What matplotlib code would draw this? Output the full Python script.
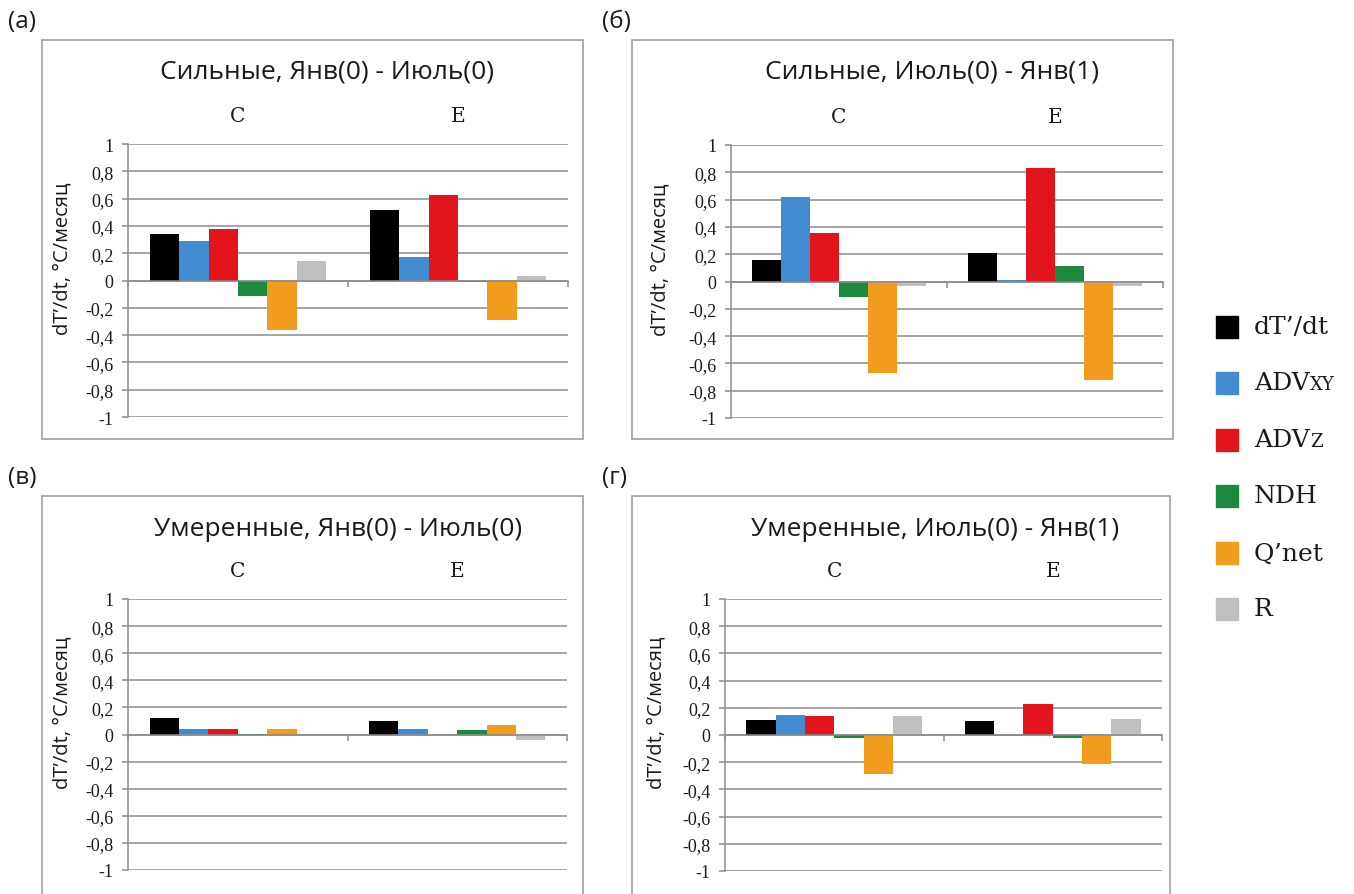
import matplotlib.pyplot as plt
import numpy as np
from matplotlib.patches import Rectangle
from matplotlib.offsetbox import TextArea, HPacker, AnchoredOffsetbox

# Heat budget terms, °C/month, for the two regions C and E
categories = ['C', 'E']
terms = ['dT’/dt', 'ADV', 'ADV', 'NDH', 'Q’net', 'R']
term_subs = ['', 'XY', 'Z', '', '', '']
colors = ['#000000', '#438bd0', '#e2141c', '#1b8a3e', '#f29c1e', '#bfbfbf']

strong_jan_jul_C = [0.34, 0.29, 0.38, -0.115, -0.36, 0.14]
strong_jan_jul_E = [0.52, 0.17, 0.63, -0.01, -0.29, 0.03]
strong_jul_jan_C = [0.16, 0.62, 0.355, -0.11, -0.67, -0.035]
strong_jul_jan_E = [0.21, 0.012, 0.83, 0.115, -0.72, -0.035]
moderate_jan_jul_C = [0.125, 0.04, 0.042, 0.007, 0.04, -0.004]
moderate_jan_jul_E = [0.10, 0.037, 0.0, 0.032, 0.068, -0.044]
moderate_jul_jan_C = [0.112, 0.146, 0.139, -0.02, -0.29, 0.139]
moderate_jul_jan_E = [0.10, -0.007, 0.227, -0.02, -0.212, 0.117]

titles = ['Сильные, Янв(0) - Июль(0)', 'Сильные, Июль(0) - Янв(1)',
          'Умеренные, Янв(0) - Июль(0)', 'Умеренные, Июль(0) - Янв(1)']
panel_tags = ['(a)', '(б)', '(в)', '(г)']
yticks = np.round(np.arange(-1, 1.01, 0.2), 1)
ylabel = 'dT’/dt, °C/месяц'

W, H = 1354, 895
fig = plt.figure(figsize=(W / 100, H / 100), dpi=100)
fig.patch.set_facecolor('white')

SANS = 'Open Sans'
SERIF = 'Liberation Serif'
SERIF2 = 'DejaVu Serif'
GRID = '#8c8c8c'
INK = '#1a1a1a'


def fx(px):
    return px / W


def fy(py):
    return 1 - py / H


# pixel layout: chart box, plot area, title centre, tag position, y-label right edge
layout = [
    dict(box=(42, 41, 583, 440), plot=(128, 145, 568, 418), title=(327, 72), tag=(8, 22), lab=72),
    dict(box=(632, 41, 1173, 440), plot=(731, 146, 1163, 419), title=(932, 72), tag=(602, 22), lab=670),
    dict(box=(42, 497, 583, 905), plot=(128, 600, 567, 871), title=(338, 530), tag=(8, 478), lab=72),
    dict(box=(632, 497, 1170, 905), plot=(725, 600, 1162, 872), title=(935, 530), tag=(602, 478), lab=666),
]
panel_data = [
    (strong_jan_jul_C, strong_jan_jul_E),
    (strong_jul_jan_C, strong_jul_jan_E),
    (moderate_jan_jul_C, moderate_jan_jul_E),
    (moderate_jul_jan_C, moderate_jul_jan_E),
]

bar_w = 0.134
x = np.arange(len(categories))

for lay, data, title, tag in zip(layout, panel_data, titles, panel_tags):
    bx0, by0, bx1, by1 = lay['box']
    fig.add_artist(Rectangle((fx(bx0), fy(by1)), fx(bx1 - bx0), (by1 - by0) / H,
                             transform=fig.transFigure, fill=False,
                             edgecolor='#a6a6a6', lw=1.3))
    px0, py0, px1, py1 = lay['plot']
    ax = fig.add_axes([fx(px0), fy(py1), fx(px1 - px0), (py1 - py0) / H])
    ax.set_facecolor('none')

    vals = np.array(data).T  # rows: terms, cols: categories
    for i, (row, col) in enumerate(zip(vals, colors)):
        ax.bar(x + (i - 2.5) * bar_w, row, width=bar_w, color=col,
               edgecolor='none', zorder=3)

    ax.set_xlim(-0.5, 1.5)
    ax.set_ylim(-1, 1)
    ax.set_yticks(yticks)
    ax.set_yticklabels([('%g' % v).replace('.', ',') if v != 0 else '0' for v in yticks],
                       fontfamily=SERIF, fontsize=13, color=INK)
    ax.yaxis.grid(True, color=GRID, lw=1.1, zorder=0)
    ax.set_axisbelow(True)

    for s in ['top', 'right']:
        ax.spines[s].set_visible(False)
    ax.spines['left'].set_color(GRID)
    ax.spines['left'].set_linewidth(1.1)
    ax.spines['bottom'].set_position(('data', 0))
    ax.spines['bottom'].set_color(GRID)
    ax.spines['bottom'].set_linewidth(1.1)
    ax.spines['bottom'].set_zorder(4)

    ax.set_xticks([-0.5, 0.5, 1.5])
    ax.set_xticklabels([])
    ax.tick_params(axis='x', direction='out', length=4.5, color=GRID, width=1.1)
    ax.tick_params(axis='y', direction='out', length=4.5, color=GRID, width=1.1, pad=6)

    top = ax.secondary_xaxis('top')
    top.set_xticks(x)
    top.set_xticklabels(categories, fontfamily=SERIF2, fontsize=14.5, color=INK)
    top.tick_params(length=0, pad=14)
    top.spines['top'].set_visible(False)

    ax.set_ylabel(ylabel, fontfamily=SANS, fontsize=14.5, color=INK)
    ax.yaxis.set_label_coords((lay['lab'] - px0) / (px1 - px0), 0.585)

    tx, ty = lay['title']
    fig.text(fx(tx), fy(ty), title, ha='center', va='center',
             fontfamily=SANS, fontsize=19, color=INK)
    gx, gy = lay['tag']
    fig.text(fx(gx), fy(gy), tag, ha='left', va='center',
             fontfamily=SANS, fontsize=17.5, color=INK)

# legend on the right, one row per budget term
row_y = [328, 384, 441, 497, 554, 610]
for name, sub, col, ry in zip(terms, term_subs, colors, row_y):
    fig.add_artist(Rectangle((fx(1216), fy(ry + 11)), fx(22), 22 / H,
                             transform=fig.transFigure, color=col))
    parts = [TextArea(name, textprops=dict(fontfamily=SERIF2, fontsize=18, color=INK))]
    if sub:
        parts.append(TextArea(sub, textprops=dict(fontfamily=SERIF2, fontsize=13, color=INK)))
    pack = HPacker(children=parts, align='baseline', pad=0, sep=0)
    box = AnchoredOffsetbox(loc='center left', child=pack, pad=0, borderpad=0,
                            frameon=False, bbox_to_anchor=(fx(1254), fy(ry)),
                            bbox_transform=fig.transFigure)
    fig.add_artist(box)

fig.savefig('out.png', dpi=100, facecolor='white')
